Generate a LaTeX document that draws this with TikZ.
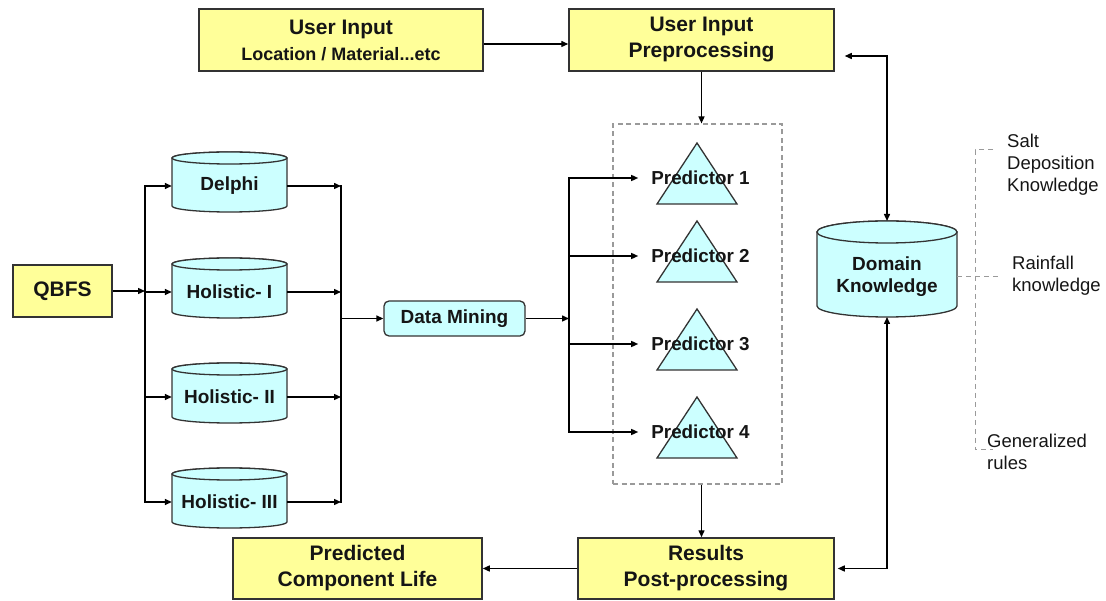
\documentclass[tikz,border=0pt]{standalone}
\usepackage{fontspec}
\setmainfont{Liberation Sans}
\usetikzlibrary{arrows.meta,backgrounds}
\definecolor{boxyellow}{HTML}{FFFF99}
\definecolor{boxcyan}{HTML}{CCFFFF}
\definecolor{edgecol}{HTML}{333333}
\definecolor{dashgray}{HTML}{9A9A9A}
\definecolor{txt}{HTML}{151515}
\tikzset{
  yellowbox/.style={draw=edgecol, fill=boxyellow, line width=1.5pt, align=center, text=txt,
    font=\bfseries\fontsize{21}{26}\selectfont, inner sep=0pt},
  cylnode/.style={minimum width=115pt, minimum height=52pt, inner sep=0pt, align=center, text=txt,
    font=\bfseries\fontsize{19}{22}\selectfont},
  cylbody/.style={draw=edgecol, fill=boxcyan, line width=1.3pt},
  dmbox/.style={draw=edgecol, fill=boxcyan, line width=1.3pt, rounded corners=5pt, text=txt,
    minimum width=141pt, minimum height=35pt, inner sep=0pt, font=\bfseries\fontsize{19}{22}\selectfont},
  predlabel/.style={inner sep=0pt, text=txt, font=\bfseries\fontsize{18.8}{22}\selectfont},
  sidelabel/.style={inner sep=0pt, align=left, text=txt, font=\fontsize{18.5}{22}\selectfont},
  arr/.style={-{Triangle[length=7pt,width=6pt]}, line width=1.4pt, draw=black},
  arrboth/.style={{Triangle[length=7pt,width=6pt]}-{Triangle[length=7pt,width=6pt]}, line width=1.4pt, draw=black},
  trunk/.style={line width=1.4pt, draw=black, line cap=rect},
  dline/.style={draw=dashgray, dash pattern=on 5pt off 4pt, line width=1pt},
  dashbox/.style={draw=dashgray, dash pattern=on 5pt off 3.5pt, line width=1.1pt, inner sep=0pt,
    minimum width=169pt, minimum height=360pt}
}
% name, rx, ry, top distance above center, bottom distance below center
\newcommand{\drawcyl}[5]{%
  \path[cylbody] ([shift={(-#2,-#4+#3)}]#1.center) -- ([shift={(-#2,#5-#3)}]#1.center)
    arc[start angle=180,end angle=360,x radius=#2pt,y radius=#3pt]
    -- ([shift={(#2,-#4+#3)}]#1.center)
    arc[start angle=0,end angle=180,x radius=#2pt,y radius=#3pt] -- cycle;
  \draw[cylbody] ([shift={(0,-#4+#3)}]#1.center) ellipse[x radius=#2pt,y radius=#3pt];
}
\newcommand{\drawtri}[1]{%
  \path[cylbody] ([shift={(-3.5,-35)}]#1.center) -- ([shift={(-43.5,26)}]#1.center)
    -- ([shift={(36.5,26)}]#1.center) -- cycle;
}
\begin{document}
\begin{tikzpicture}[x=1pt,y=-1pt]
\useasboundingbox (0,0) rectangle (1106,601);

% top boxes
\node[yellowbox, minimum width=284pt, minimum height=62pt] (ui) at (341,40)
  {User Input\\{\fontsize{18}{28}\selectfont Location / Material...etc}};
\node[yellowbox, minimum width=265pt, minimum height=62pt] (uip) at (701.5,40)
  {User Input\\Preprocessing};

% left part
\node[yellowbox, minimum width=99pt, minimum height=52pt] (qbfs) at (62.5,291) {QBFS};
\node[cylnode] (delphi) at (229.5,186) {Delphi};
\node[cylnode] (hol1) at (229.5,292) {Holistic- I};
\node[cylnode] (hol2) at (229.5,397) {Holistic- II};
\node[cylnode] (hol3) at (229.5,502) {Holistic- III};
\node[dmbox] (dm) at (454.5,318.5) {Data Mining};

% predictors
\node[dashbox] (pbox) at (697.5,304) {};
\node[predlabel] (p1) at (700.5,178) {Predictor 1};
\node[predlabel] (p2) at (700.5,256) {Predictor 2};
\node[predlabel] (p3) at (700.5,344) {Predictor 3};
\node[predlabel] (p4) at (700.5,432) {Predictor 4};

% domain knowledge
\node[cylnode, minimum width=140pt, minimum height=80pt] (dk) at (887,277) {Domain\\Knowledge};

% bottom boxes
\node[yellowbox, minimum width=256pt, minimum height=61pt] (res) at (706,568.5)
  {Results\\Post-processing};
\node[yellowbox, minimum width=249pt, minimum height=61pt] (pred) at (357.5,568.5)
  {Predicted\\Component Life};

% side labels
\node[sidelabel, anchor=west] (salt) at (1007,165) {Salt\\Deposition\\Knowledge};
\node[sidelabel, anchor=west] (rain) at (1012,276) {Rainfall\\knowledge};
\node[sidelabel, anchor=west] (gen) at (987,452) {Generalized\\rules};

\begin{pgfonlayer}{background}
  \drawcyl{delphi}{57.5}{6}{34}{26}
  \drawcyl{hol1}{57.5}{6}{34}{26}
  \drawcyl{hol2}{57.5}{6}{34}{26}
  \drawcyl{hol3}{57.5}{6}{34}{26}
  \drawcyl{dk}{70}{11}{56}{40}
  \drawtri{p1}
  \drawtri{p2}
  \drawtri{p3}
  \drawtri{p4}
\end{pgfonlayer}

% trunks
\coordinate (t1) at (145,0);
\coordinate (t2) at (341,0);
\coordinate (t3) at (569,0);

\draw[arr] (qbfs.east) -- (qbfs.east -| t1);
\draw[trunk] (delphi.west -| t1) -- (hol3.west -| t1);
\foreach \n in {delphi,hol1,hol2,hol3} {
  \draw[arr] (\n.west -| t1) -- (\n.west);
  \draw[arr] (\n.east) -- (\n.east -| t2);
}
\draw[trunk] (delphi.east -| t2) -- (hol3.east -| t2);
\draw[arr] (dm.west -| t2) -- (dm.west);
\draw[arr] (dm.east) -- (dm.east -| t3);
\draw[trunk] (p1.west -| t3) -- (p4.west -| t3);
\foreach \n in {p1,p2,p3,p4} {
  \draw[arr, shorten >=13pt] (\n.west -| t3) -- (\n.west);
}

% main flow
\draw[arr] ([yshift=-4pt]ui.east) -- ([yshift=-4pt]uip.west);
\draw[arr] (uip.south) -- (uip.south |- pbox.north);
\draw[arr] (pbox.south -| uip.south) -- (res.north -| uip.south);
\draw[arr] (res.west) -- (pred.east);
\draw[arrboth] ([xshift=10pt,yshift=-16pt]uip.east) -| ([yshift=56pt]dk.center);
\draw[arrboth] ([xshift=3pt]res.east) -| ([yshift=-40pt]dk.center);

% dashed knowledge links
\draw[dline, shorten >=10pt] (dk.east) -- (dk.east -| rain.west);
\draw[dline] (993,150) -- (975,150) -- (975,450) -- (993,450);
\end{tikzpicture}
\end{document}
